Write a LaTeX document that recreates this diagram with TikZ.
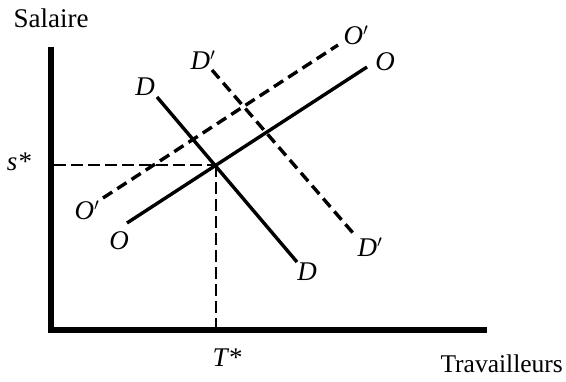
\documentclass[tikz,border=0pt]{standalone}
\usepackage{fontspec}
\setmainfont{Liberation Serif}
\begin{document}
\begin{tikzpicture}[x=1pt,y=-1pt,
  lbl/.style={inner sep=0pt,font=\fontsize{27}{31}\selectfont\itshape},
  txt/.style={inner sep=0pt,font=\fontsize{27}{31}\selectfont},
  axis/.style={line width=6.5pt},
  curve/.style={line width=3.4pt},
  dcurve/.style={line width=3.4pt,dash pattern=on 11pt off 6pt},
  guide/.style={line width=2.2pt,dash pattern=on 12pt off 5pt}]
\useasboundingbox (0,0) rectangle (566,381);
% axes
\coordinate (top) at (51,47);
\coordinate (orig) at (51,330);
\coordinate (right) at (487,330);
\draw[axis] (top) -- (orig) -- (right);
% equilibrium
\coordinate (E) at (216,165);
\coordinate (sy) at (54,165);
\coordinate (tx) at (216,330);
\draw[guide] (sy) -- (E);
\draw[guide] (E) -- (tx);
% curves
\coordinate (D1) at (157,97);
\coordinate (D2) at (297,262);
\coordinate (Dp1) at (212,70);
\coordinate (Dp2) at (353,233);
\coordinate (O1) at (127,223);
\coordinate (O2) at (367,67);
\coordinate (Op1) at (103,198);
\coordinate (Op2) at (338,45);
\draw[curve] (D1) -- (D2);
\draw[curve] (O1) -- (O2);
\draw[dcurve] (Dp1) -- (Dp2);
\draw[dcurve] (Op1) -- (Op2);
% labels
\node[txt] (sal) at (51,18) {Salaire};
\node[txt,anchor=base east,font=\fontsize{25.5}{30}\selectfont] (trav) at (563,372) {Travailleurs};
\node[lbl] (ss) at (19,162) {s*};
\node[lbl] (ts) at (227,358) {T*};
\node[lbl] (dA) at (145,87) {D};
\node[lbl] (dB) at (307,272) {D};
\node[lbl] (dpA) at (203,60) {D$'$};
\node[lbl] (dpB) at (370,247) {D$'$};
\node[lbl] (oA) at (385,62) {O};
\node[lbl] (oB) at (119,241) {O};
\node[lbl] (opA) at (356,35) {O$'$};
\node[lbl] (opB) at (87,210) {O$'$};
\end{tikzpicture}
\end{document}
